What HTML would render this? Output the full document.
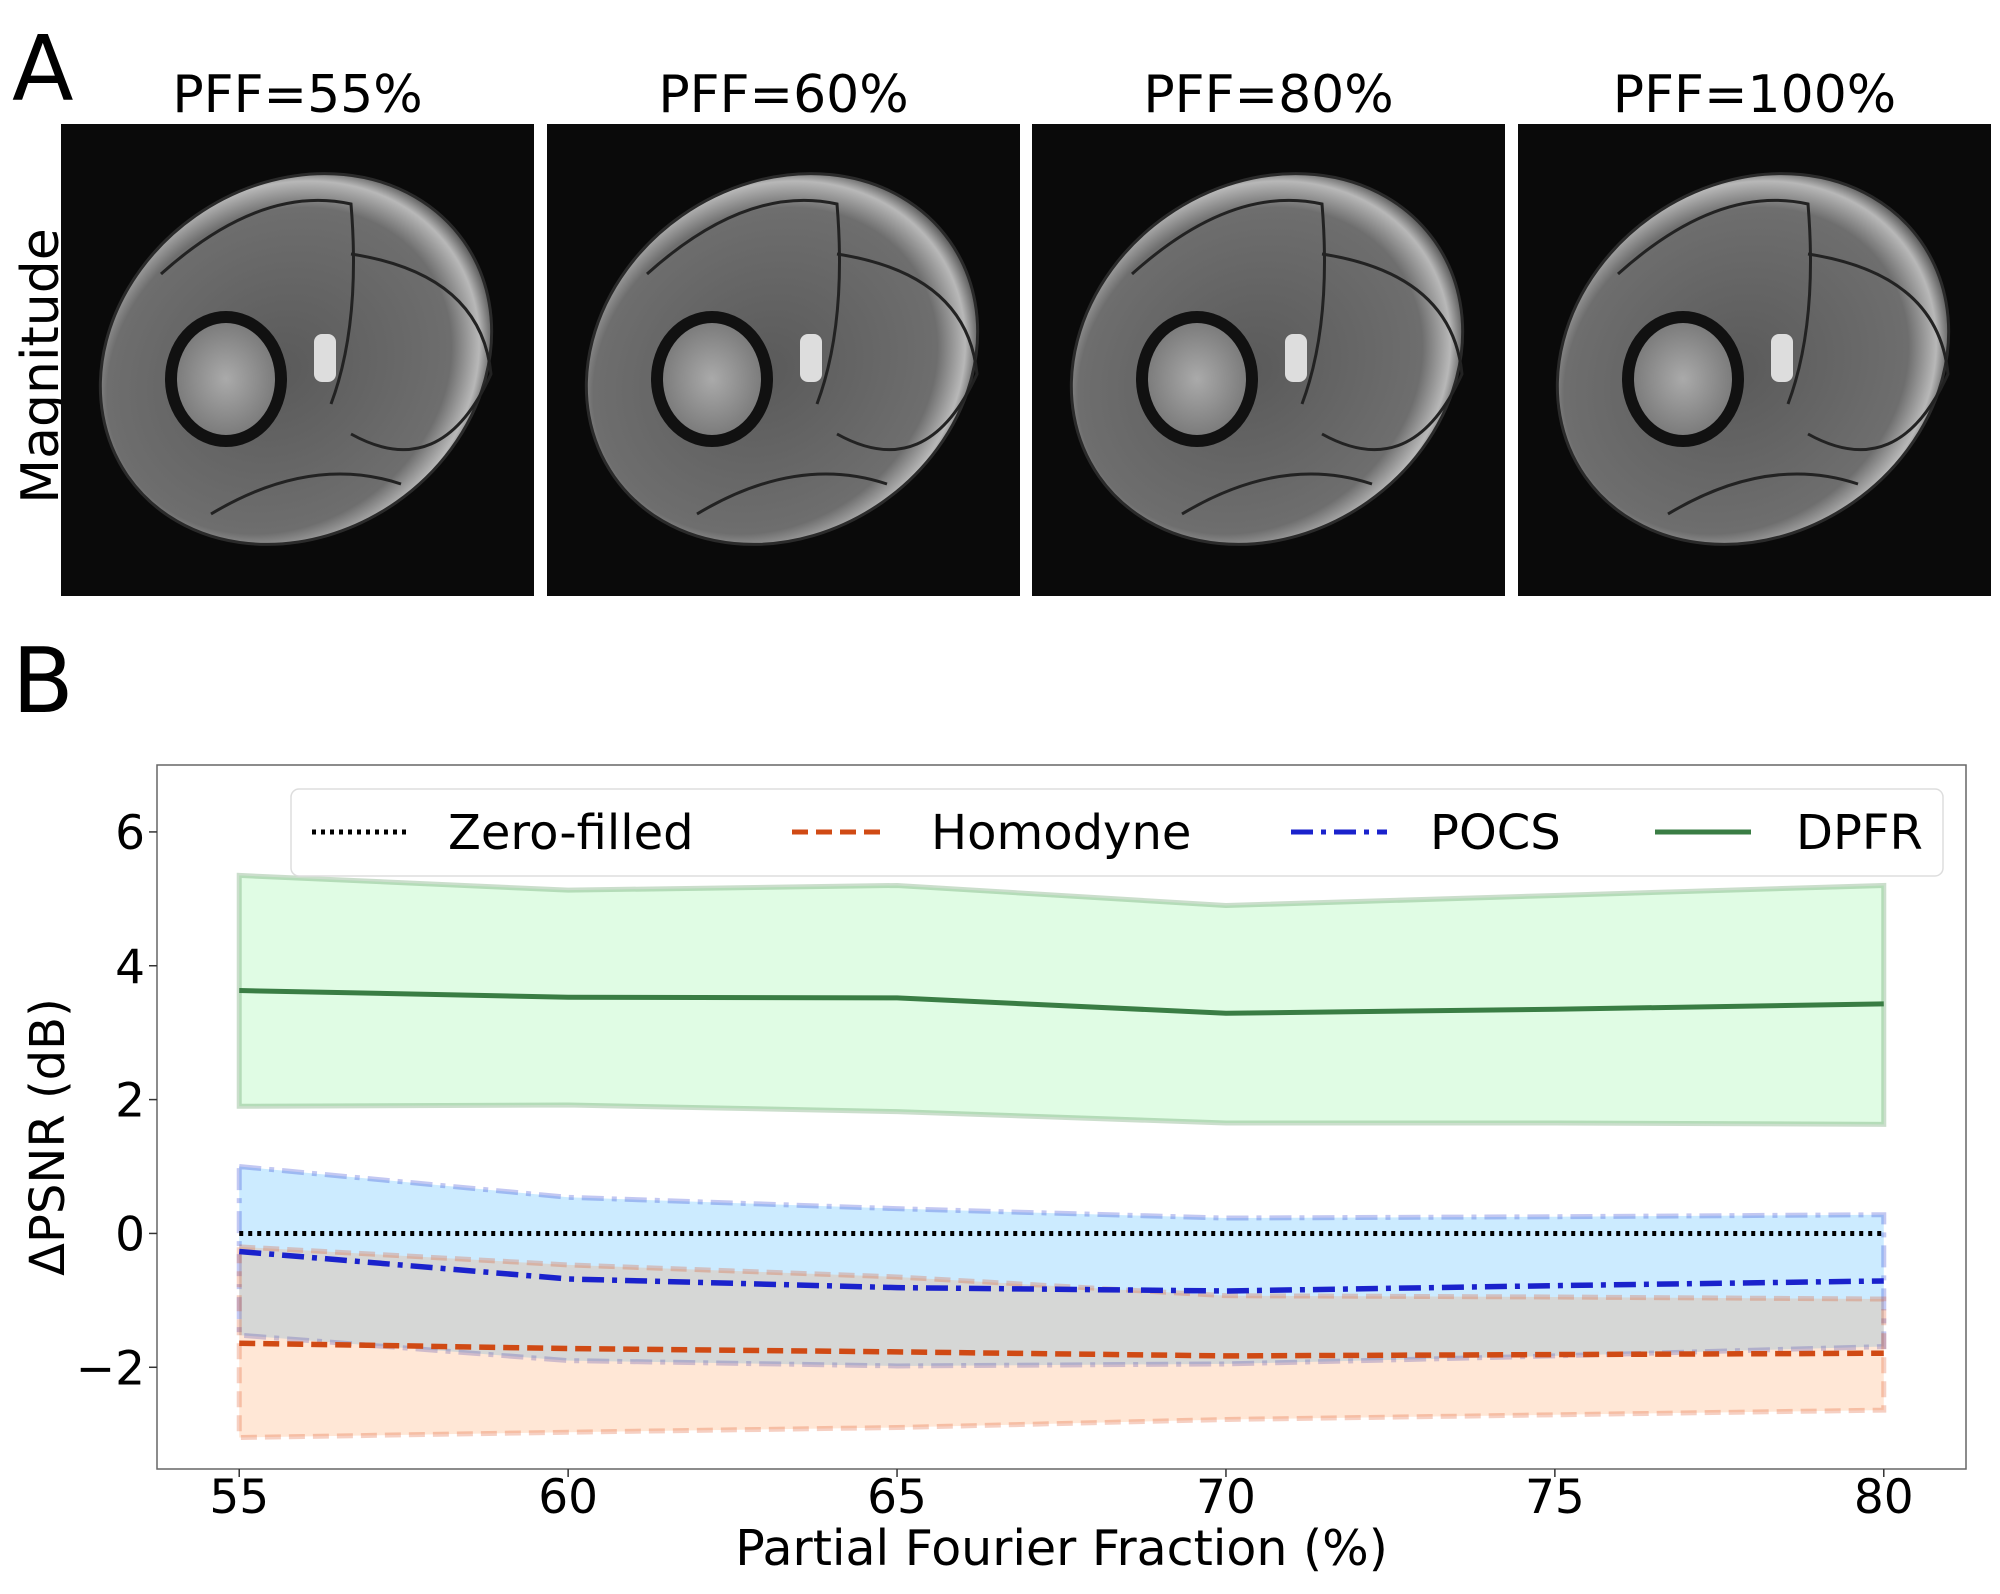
<!DOCTYPE html>
<html><head><meta charset="utf-8"><style>
html,body{margin:0;padding:0;background:#fff;}
svg{display:block;font-family:"DejaVu Sans","Liberation Sans",sans-serif;}
</style></head><body>
<svg id="fig" width="2000" height="1594" viewBox="0 0 2000 1594">
<defs>
<radialGradient id="limb" cx="0.45" cy="0.5" r="0.55">
<stop offset="0" stop-color="#5a5a5a"/><stop offset="0.8" stop-color="#6e6e6e"/><stop offset="0.93" stop-color="#b8b8b8"/><stop offset="1" stop-color="#555"/>
</radialGradient>
<radialGradient id="bone" cx="0.5" cy="0.5" r="0.5"><stop offset="0" stop-color="#aaa"/><stop offset="1" stop-color="#777"/></radialGradient>
</defs>
<text x="12" y="100" font-size="90">A</text>
<text x="12" y="712" font-size="90">B</text>
<text transform="translate(58,366) rotate(-90)" text-anchor="middle" font-size="52">Magnitude</text>
<g id="images"></g>
<g id="chart"></g>
</svg>
<script>
const pffLabels = ["PFF=55%","PFF=60%","PFF=80%","PFF=100%"];
const xCats = [55,60,65,70,75,80];
const zeroMean = [0,0,0,0,0,0];
const homMean = [-1.64,-1.72,-1.77,-1.83,-1.81,-1.79];
const homUpper = [-0.2,-0.47,-0.65,-0.93,-0.95,-0.98];
const homLower = [-3.05,-2.97,-2.9,-2.78,-2.71,-2.64];
const pocsMean = [-0.27,-0.68,-0.81,-0.86,-0.78,-0.71];
const pocsUpper = [1.0,0.54,0.37,0.23,0.25,0.28];
const pocsLower = [-1.52,-1.9,-1.98,-1.95,-1.83,-1.69];
const dpfrMean = [3.63,3.53,3.52,3.29,3.35,3.43];
const dpfrUpper = [5.35,5.13,5.2,4.9,5.05,5.2];
const dpfrLower = [1.9,1.92,1.82,1.65,1.65,1.63];
const xTicks = [55,60,65,70,75,80];
const yTicks = [-2,0,2,4,6];
const legendLabels = ["Zero-filled","Homodyne","POCS","DPFR"];

const NS="http://www.w3.org/2000/svg";
function mk(tag,attrs,parent){const e=document.createElementNS(NS,tag);for(const k in attrs)e.setAttribute(k,attrs[k]);parent.appendChild(e);return e;}

const imgs=document.getElementById('images');
const imgX=[61,547,1032,1518];
pffLabels.forEach((lab,i)=>{
  const x=imgX[i],y=124,w=473,h=472;
  const t=mk('text',{x:x+w/2,y:112,'text-anchor':'middle','font-size':'52'},imgs);
  t.textContent=lab;
  
  
  const g=mk('g',{},imgs);
  
  
  mk('rect',{x:x,y:y,width:w,height:h,fill:'#0a0a0a'},g);
  mk('ellipse',{cx:x+235,cy:y+235,rx:205,ry:175,transform:`rotate(-35 ${x+235} ${y+235})`,fill:'url(#limb)',stroke:'#2a2a2a','stroke-width':3},g);
  mk('path',{d:`M${x+100} ${y+150} Q${x+200} ${y+60} ${x+290} ${y+80} Q${x+300} ${y+200} ${x+270} ${y+280}`,fill:'none',stroke:'#222','stroke-width':3},g);
  mk('path',{d:`M${x+290} ${y+130} Q${x+420} ${y+150} ${x+430} ${y+250} Q${x+380} ${y+360} ${x+290} ${y+310}`,fill:'none',stroke:'#222','stroke-width':3},g);
  mk('path',{d:`M${x+150} ${y+390} Q${x+250} ${y+330} ${x+340} ${y+360}`,fill:'none',stroke:'#222','stroke-width':3},g);
  mk('ellipse',{cx:x+165,cy:y+255,rx:55,ry:62,fill:'url(#bone)',stroke:'#111','stroke-width':12},g);
  mk('rect',{x:x+253,y:y+210,width:22,height:48,rx:8,fill:'#ddd'},g);
});

const ch=document.getElementById('chart');
const L=157,R=1966,T=765,B=1469;
const xMin=53.75,xMax=81.25,yMin=-3.52,yMax=7.0;
const sx=v=>L+(v-xMin)/(xMax-xMin)*(R-L);
const sy=v=>B-(v-yMin)/(yMax-yMin)*(B-T);
mk('rect',{x:L,y:T,width:R-L,height:B-T,fill:'#fff'},ch);
function band(up,lo,fill,stroke,dash,name){
  let d='M'+xCats.map((c,i)=>sx(c)+' '+sy(up[i])).join(' L');
  d+=' L'+xCats.slice().reverse().map((c,j)=>{const i=xCats.length-1-j;return sx(c)+' '+sy(lo[i]);}).join(' L')+' Z';
  const p=mk('path',{d:d,fill:fill,'fill-opacity':0.2,stroke:stroke,'stroke-opacity':0.25,'stroke-width':5,'stroke-dasharray':dash},ch);
  
  
}
function line(vals,color,dash,w,name){
  const p=mk('polyline',{points:xCats.map((c,i)=>sx(c)+','+sy(vals[i])).join(' '),fill:'none',stroke:color,'stroke-width':w,'stroke-dasharray':dash},ch);
  
  
}
band(dpfrUpper,dpfrLower,'#66ee77','#2e7d32','none','dpfr-band');
band(pocsUpper,pocsLower,'#0099ff','#1122cc','22 8 5 8','pocs-band');
band(homUpper,homLower,'#ff8833','#dd4411','16 8','homodyne-band');
line(zeroMean,'#000','4 5',5,'zero-filled-line');
line(homMean,'#d04a14','16 8',5.5,'homodyne-line');
line(pocsMean,'#1a22cc','22 8 5 8',5.5,'pocs-line');
line(dpfrMean,'#3a7d44','none',5,'dpfr-line');
const frame=mk('rect',{x:L,y:T,width:R-L,height:B-T,fill:'none',stroke:'#666','stroke-width':1.5},ch);


xTicks.forEach(v=>{
  mk('line',{x1:sx(v),x2:sx(v),y1:B,y2:B+8,stroke:'#333','stroke-width':1.5},ch);
  const t=mk('text',{x:sx(v),y:B+44,'text-anchor':'middle','font-size':'47'},ch);
  t.textContent=v;
  
  
});
yTicks.forEach(v=>{
  mk('line',{x1:L-8,x2:L,y1:sy(v),y2:sy(v),stroke:'#333','stroke-width':1.5},ch);
  const t=mk('text',{x:L-12,y:sy(v)+17,'text-anchor':'end','font-size':'47'},ch);
  t.textContent=v<0?'\u2212'+Math.abs(v):v;
  
  
});
const xl=mk('text',{x:(L+R)/2,y:1565,'text-anchor':'middle','font-size':'49'},ch);
xl.textContent='Partial Fourier Fraction (%)';


const yl=mk('text',{transform:`translate(64,${(T+B)/2+20}) rotate(-90)`,'text-anchor':'middle','font-size':'48'},ch);
yl.textContent='\u0394PSNR (dB)';


const lg=mk('g',{},ch);


mk('rect',{x:291,y:789,width:1652,height:87,rx:8,fill:'#fff','fill-opacity':0.85,stroke:'#ddd','stroke-width':1.5},lg);
const lx=[312,792,1291,1655], tx=[448,931,1430,1796];
const lc=['#000','#d04a14','#1a22cc','#3a7d44'], ld=['4 5','16 8','22 8 5 8','none'];
legendLabels.forEach((lab,i)=>{
  mk('line',{x1:lx[i],x2:lx[i]+96,y1:832,y2:832,stroke:lc[i],'stroke-width':5,'stroke-dasharray':ld[i]},lg);
  const t=mk('text',{x:tx[i],y:849,'font-size':'48'},lg);
  t.textContent=lab;
  
  
});
</script>
</body></html>
